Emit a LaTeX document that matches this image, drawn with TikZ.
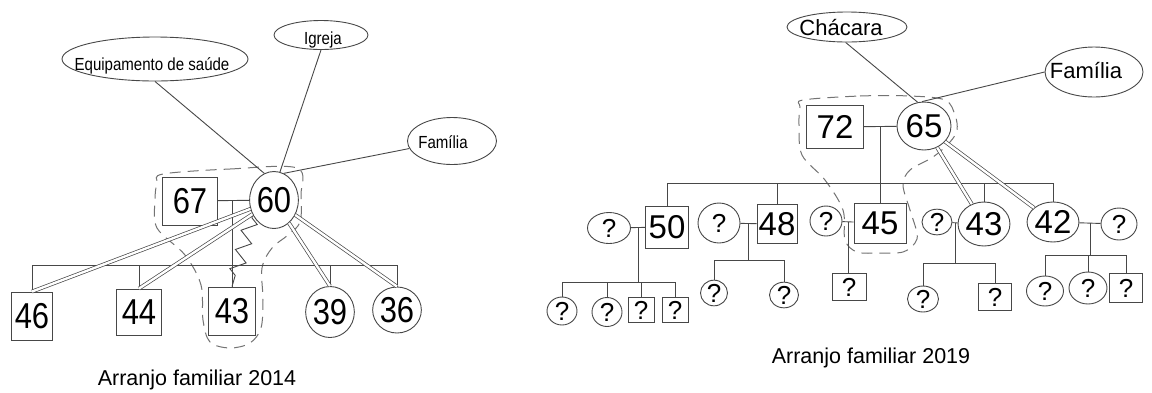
\documentclass[tikz,border=0pt]{standalone}
\usepackage{fontspec}
\setmainfont{Liberation Sans}
\newfontfamily\narrowsans[FakeStretch=0.86]{Liberation Sans}
\usetikzlibrary{shapes.geometric,decorations.pathmorphing,calc}

% font sizes used in the genograms
\newcommand\fgNumL{\narrowsans\fontsize{36}{36}\selectfont}
\newcommand\fgNumR{\fontsize{33}{33}\selectfont}
\newcommand\fgQ{\fontsize{26}{26}\selectfont}
\newcommand\fgEcoL{\narrowsans\fontsize{17.5}{17.5}\selectfont}
\newcommand\fgEcoR{\fontsize{22}{22}\selectfont}
\newcommand\fgCap{\fontsize{21.5}{21.5}\selectfont}

\begin{document}
\begin{tikzpicture}[x=1pt,y=-1pt,
  ln/.style={draw=black!72, line width=0.9pt},
  pbox/.style={draw=black!72, line width=0.9pt, fill=white, rectangle, inner sep=0pt},
  pcirc/.style={draw=black!72, line width=0.9pt, fill=white, ellipse, inner sep=0pt},
  eco/.style={draw=black!72, line width=0.9pt, fill=white, ellipse, inner sep=0pt},
  tie/.style={draw=black!72, double=white, double distance=2.4pt, line width=0.7pt},
  household/.style={draw=black!55, line width=1pt, dash pattern=on 11pt off 7pt},
  conflict/.style={draw=black!72, line width=0.9pt, decorate,
    decoration={zigzag, segment length=20pt, amplitude=7pt, pre length=3pt, post length=3pt}},
  lbl/.style={inner sep=0pt}]
\useasboundingbox (0,0) rectangle (1152,392);

% ---------------- Family arrangement 2014 ----------------
% household boundary
\draw[household] plot[smooth cycle, tension=0.55] coordinates {
  (163,174) (230,169) (297,168) (301,195) (300,222) (288,235) (272,248)
  (262,268) (263,300) (261,328) (250,343) (230,348) (210,342) (203,320)
  (201,285) (185,255) (157,228) (155,200) (157,183)};

% ecomap resources
\node[eco, minimum width=186pt, minimum height=44pt] (equip) at (155,59) {};
\node[lbl, font=\fgEcoL] (equipT) at (152,66) {Equipamento de saúde};
\node[eco, minimum width=94pt, minimum height=29pt] (igreja) at (321,35) {};
\node[lbl, font=\fgEcoL] (igrejaT) at (323,40) {Igreja};
\node[eco, minimum width=89pt, minimum height=47pt] (famL) at (452,141) {};
\node[lbl, font=\fgEcoL] (famLT) at (443,142) {Família};

% persons
\node[pbox, minimum width=55pt, minimum height=48pt, font=\fgNumL] (b67) at (190,201) {67};
\node[pcirc, minimum width=48pt, minimum height=57pt, font=\fgNumL] (n60) at (274,200) {60};
\node[pbox, minimum width=41pt, minimum height=48pt, font=\fgNumL] (b46) at (32,316) {46};
\node[pbox, minimum width=45pt, minimum height=46pt, font=\fgNumL] (b44) at (139,312) {44};
\node[pbox, minimum width=47pt, minimum height=48pt, font=\fgNumL] (b43) at (232,311) {43};
\node[pcirc, minimum width=45pt, minimum height=51pt, font=\fgNumL] (c39) at (330,312) {39};
\node[pcirc, minimum width=39pt, minimum height=46pt, font=\fgNumL] (c36) at (397,310) {36};

% ecomap links
\draw[ln] (equip.south) -- (n60.110);
\draw[ln] (igreja.south) -- (n60.78);
\draw[ln] (famL.190) -- (n60.70);

% couple and children
\coordinate (sibL) at (0,265);
\coordinate (mL) at (232,200.5);
\draw[ln] (b67) -- (n60);
\draw[ln] (mL) -- (b43.north);
\draw[ln] (b46.north |- sibL) -- (c36.north |- sibL);
\foreach \c in {b46,b44,c39,c36} \draw[ln] (\c.north) -- (\c.north |- sibL);

% relationship qualities
\draw[conflict] (n60.215) -- (b43.north);
\draw[tie] (n60) -- (b46.north);
\draw[tie] (n60) -- (b44.north);
\draw[tie] (n60) -- (c39.north);
\draw[tie] (n60) -- (c36.north);

\node[lbl, font=\fgCap] (capL) at (197,380) {Arranjo familiar 2014};

% ---------------- Family arrangement 2019 ----------------
\draw[household] plot[smooth cycle, tension=0.55] coordinates {
  (803,100) (860,96) (910,96) (945,100) (955,115) (957,130) (950,142)
  (933,157) (910,170) (903,185) (910,210) (917,233) (915,243) (903,252)
  (880,253) (857,252) (845,240) (843,210) (825,180) (802,155) (799,125)
  (800,107)};

% ecomap resources
\node[eco, minimum width=120pt, minimum height=30pt] (chac) at (847,27) {};
\node[lbl, font=\fgEcoR] (chacT) at (841,28) {Chácara};
\node[eco, minimum width=98pt, minimum height=50pt] (famR) at (1094,72) {};
\node[lbl, font=\fgEcoR] (famRT) at (1086,71) {Família};

% persons
\node[pbox, minimum width=57pt, minimum height=43pt, font=\fgNumR] (b72) at (835,127) {72};
\node[pcirc, minimum width=54pt, minimum height=48pt, font=\fgNumR] (n65) at (924,126) {65};
\node[pcirc, minimum width=43pt, minimum height=31pt, font=\fgQ] (qa) at (609,228) {?};
\node[pbox, minimum width=43pt, minimum height=42pt, font=\fgNumR] (b50) at (667,227) {50};
\node[pcirc, minimum width=42pt, minimum height=40pt, font=\fgQ] (qb) at (719,223) {?};
\node[pbox, minimum width=40pt, minimum height=39pt, font=\fgNumR] (b48) at (777,224) {48};
\node[pcirc, minimum width=32pt, minimum height=30pt, font=\fgQ] (qc) at (826,221) {?};
\node[pbox, minimum width=52pt, minimum height=40pt, font=\fgNumR] (b45) at (880,223) {45};
\node[pcirc, minimum width=30pt, minimum height=25pt, font=\fgQ] (qd) at (937,222) {?};
\node[pcirc, minimum width=48pt, minimum height=44pt, font=\fgNumR] (c43) at (984,224) {43};
\node[pcirc, minimum width=40pt, minimum height=40pt, font=\fgNumR] (c42) at (1053,222) {42};
\node[pcirc, minimum width=36pt, minimum height=32pt, font=\fgQ] (qe) at (1119,224) {?};

% grandchildren
\node[pcirc, minimum width=30pt, minimum height=28pt, font=\fgQ] (g50a) at (562,311) {?};
\node[pcirc, minimum width=30pt, minimum height=29pt, font=\fgQ] (g50b) at (607,312) {?};
\node[pbox, minimum width=26pt, minimum height=25pt, font=\fgQ] (g50c) at (641,310) {?};
\node[pbox, minimum width=26pt, minimum height=25pt, font=\fgQ] (g50d) at (675,310) {?};
\node[pcirc, minimum width=27pt, minimum height=25pt, font=\fgQ] (g48a) at (714,293) {?};
\node[pcirc, minimum width=29pt, minimum height=24pt, font=\fgQ] (g48b) at (784,295) {?};
\node[pbox, minimum width=34pt, minimum height=27pt, font=\fgQ] (g45a) at (849,287) {?};
\node[pcirc, minimum width=31pt, minimum height=26pt, font=\fgQ] (g43a) at (923,299) {?};
\node[pbox, minimum width=33pt, minimum height=27pt, font=\fgQ] (g43b) at (995,297) {?};
\node[pcirc, minimum width=37pt, minimum height=30pt, font=\fgQ] (g42a) at (1045,291) {?};
\node[pcirc, minimum width=38pt, minimum height=32pt, font=\fgQ] (g42b) at (1088,288) {?};
\node[pbox, minimum width=33pt, minimum height=29pt, font=\fgQ] (g42c) at (1126,288) {?};

% ecomap links
\draw[ln] (chac.265) -- (n65.105);
\draw[ln] (famR.west) -- (n65.95);

% main couple and children
\coordinate (sibR) at (0,183);
\coordinate (mR) at (880,127);
\draw[ln] (b72) -- (n65);
\draw[ln] (mR) -- (b45.north);
\draw[ln] (b50.north |- sibR) -- (c42.north |- sibR);
\foreach \c in {b50,b48,c43,c42} \draw[ln] (\c.north) -- (\c.north |- sibR);

% couple 50
\coordinate (s50) at (0,282);
\coordinate (m50) at ($(qa.east)!0.5!(b50.west)$);
\draw[ln] (qa) -- (b50);
\draw[ln] (m50) -- (m50 |- s50);
\draw[ln] (g50a.north |- s50) -- (g50d.north |- s50);
\foreach \c in {g50a,g50b,g50c,g50d} \draw[ln] (\c.north) -- (\c.north |- s50);

% couple 48
\coordinate (s48) at (0,260);
\coordinate (m48) at ($(qb.east)!0.5!(b48.west)$);
\draw[ln] (qb) -- (b48);
\draw[ln] (m48) -- (m48 |- s48);
\draw[ln] (g48a.north |- s48) -- (g48b.north |- s48);
\foreach \c in {g48a,g48b} \draw[ln] (\c.north) -- (\c.north |- s48);

% couple 45
\coordinate (m45) at ($(qc.east)!0.5!(b45.west)$);
\draw[ln] (qc) -- (b45);
\draw[ln] (m45) -- (m45 |- g45a.north);

% couple 43
\coordinate (s43) at (0,263);
\coordinate (m43) at ($(qd.east)!0.5!(c43.west)$);
\draw[ln] (qd) -- (c43);
\draw[ln] (m43) -- (m43 |- s43);
\draw[ln] (g43a.north |- s43) -- (g43b.north |- s43);
\foreach \c in {g43a,g43b} \draw[ln] (\c.north) -- (\c.north |- s43);

% couple 42
\coordinate (s42) at (0,255);
\coordinate (m42) at ($(c42.east)!0.5!(qe.west)$);
\draw[ln] (c42) -- (qe);
\draw[ln] (m42) -- (m42 |- s42);
\draw[ln] (g42a.north |- s42) -- (g42c.north |- s42);
\foreach \c in {g42a,g42b,g42c} \draw[ln] (\c.north) -- (\c.north |- s42);

% close ties
\draw[tie] (n65) -- (c43);
\draw[tie] (n65) -- (c42);

\node[lbl, font=\fgCap] (capR) at (871,358) {Arranjo familiar 2019};
\end{tikzpicture}
\end{document}
